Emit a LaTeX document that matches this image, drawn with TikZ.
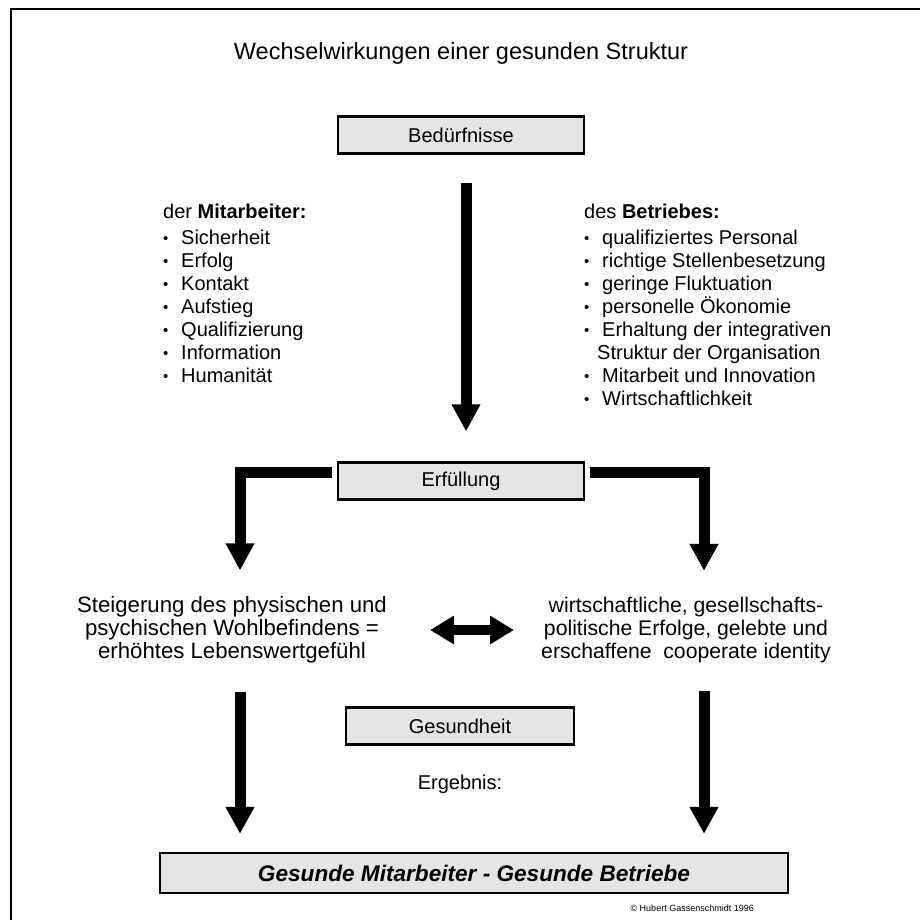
\documentclass[tikz,border=0pt]{standalone}
\usepackage{fontspec}
\setmainfont{Liberation Sans}
\usetikzlibrary{arrows.meta,positioning,calc}
\newcommand{\blt}{\makebox[18pt][l]{\raisebox{1.5pt}{\fontsize{15}{15}\selectfont\textbullet}}}
\tikzset{
  gbox/.style={draw=black, line width=2.2pt, fill=black!10, minimum width=246pt, minimum height=37pt, inner sep=0pt, font=\fontsize{20}{23}\selectfont},
  fatarrow/.style={line width=11pt, -{Triangle[width=27pt,length=27pt]}},
  txt/.style={inner sep=0pt, font=\fontsize{20}{23}\selectfont},
  lst/.style={inner sep=0pt, anchor=north west, align=left, font=\fontsize{20}{23}\selectfont}
}
\begin{document}
\begin{tikzpicture}[x=1pt,y=-1pt]
\useasboundingbox (0,0) rectangle (920,919);
\draw[line width=2.5pt] (11,925) -- (11,9) -- (925,9);
\node[txt, font=\fontsize{23.5}{26}\selectfont] (title) at (461,53) {Wechselwirkungen einer gesunden Struktur};
\node[gbox] (bed) at (461,135) {Bedürfnisse};
\node[lst] (mit) at (163,204) {der \textbf{Mitarbeiter:}\\[3pt]
\blt Sicherheit\\ \blt Erfolg\\ \blt Kontakt\\ \blt Aufstieg\\ \blt Qualifizierung\\ \blt Information\\ \blt Humanität};
\node[lst] (bet) at (584,204) {des \textbf{Betriebes:}\\[3pt]
\blt qualifiziertes Personal\\ \blt richtige Stellenbesetzung\\ \blt geringe Fluktuation\\ \blt personelle Ökonomie\\ \blt Erhaltung der integrativen\\ \hspace*{13pt}Struktur der Organisation\\ \blt Mitarbeit und Innovation\\ \blt Wirtschaftlichkeit};
\node[gbox] (erf) at (461,481) {Erfüllung};
\node[txt, align=center, font=\fontsize{22.2}{23}\selectfont] (links) at (232,630) {Steigerung des physischen und\\psychischen Wohlbefindens =\\erhöhtes Lebenswertgefühl};
\node[txt, align=center, font=\fontsize{21.2}{23}\selectfont] (rechts) at (686,630) {wirtschaftliche, gesellschafts-\\politische Erfolge, gelebte und\\erschaffene\ \ cooperate identity};
\node[gbox, minimum width=228pt] (ges) at (460,726) {Gesundheit};
\node[txt] (erg) at (460,784) {Ergebnis:};
\node[gbox, minimum width=628pt, minimum height=40pt, font=\fontsize{22.6}{25}\selectfont\bfseries\itshape] (end) at (474,873) {Gesunde Mitarbeiter - Gesunde Betriebe};
\node[inner sep=0pt, anchor=east, font=\fontsize{9}{10}\selectfont] (copy) at (754,908) {© Hubert Gassenschmidt 1996};
\coordinate (lc) at (240,472);
\coordinate (rc) at (704,472);
\draw[fatarrow] ($(bed.south)+(5,28)$) -- ($(erf.north)+(5,-30)$);
\draw[fatarrow] ($(erf.west |- lc)+(-5,0)$) -| ($(links.north -| lc)+(0,-26)$);
\draw[fatarrow] ($(erf.east |- rc)+(5,0)$) -| ($(rechts.north -| rc)+(0,-26)$);
\draw[line width=10pt, {Triangle[width=27pt,length=24pt]}-{Triangle[width=27pt,length=24pt]}] (430,630) -- (514,630);
\draw[fatarrow] ($(links.south -| lc)+(0,28)$) -- ($(end.north -| lc)+(0,-18)$);
\draw[fatarrow] ($(rechts.south -| rc)+(0,28)$) -- ($(end.north -| rc)+(0,-18)$);
\end{tikzpicture}
\end{document}
